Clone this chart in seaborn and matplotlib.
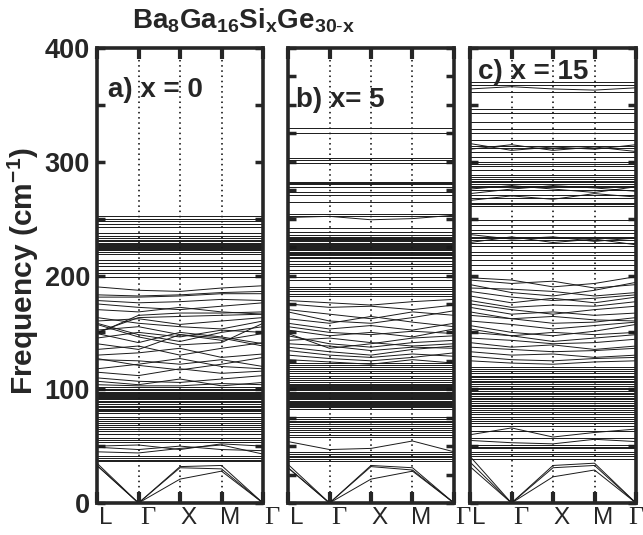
import numpy as np
import pandas as pd
import matplotlib
matplotlib.use('Agg')
import matplotlib.pyplot as plt
import seaborn as sns
from matplotlib.transforms import ScaledTranslation

# ---------------- data ----------------
kpoints = ['L', 'Γ', 'X', 'M', 'Γ']
kpos = [0, 1, 2, 3, 4]
panel_labels = ['a) x = 0', 'b) x= 5', 'c) x = 15']

# panel a (x = 0): nearly flat bands (cm^-1)
flat_a = [252, 250, 247.5, 245, 243,
          237, 234.5, 233, 231.5, 230, 229, 228, 227, 226, 225, 224, 223, 222, 221, 218.5,
          214, 211, 208, 205, 202, 199,
          102, 100.5, 99, 98, 97, 96, 95, 94, 93, 92, 91, 90, 88.5, 87, 85.5, 84, 83, 82, 80.5, 79,
          76, 74, 72, 70.5, 69, 67, 65, 63, 61,
          57, 55.5, 54,
          41, 39.5, 38, 36.5]
# panel a dispersive bands: values at L, Γ, X, M, Γ
disp_a = [[33, 0, 21, 28, 0], [33, 0, 31, 30, 0], [35, 0, 32, 33, 0],
          [45, 44, 48, 51, 43], [49, 47, 50, 47, 46], [50, 51, 47, 52, 50],
          [190, 187, 186, 189, 191], [183, 182, 183, 185, 186], [181, 181, 182, 184, 184],
          [178, 176, 177, 179, 178], [175, 172, 170, 173, 176], [170, 168, 172, 168, 166],
          [149, 165, 167, 167, 168], [150, 163, 164, 165, 166], [160, 162, 157, 160, 163],
          [163, 158, 155, 153, 160], [149, 141, 150, 146, 140], [152, 155, 148, 143, 149],
          [158, 148, 142, 150, 155], [157, 146, 139, 141, 158], [140, 135, 148, 145, 138],
          [145, 150, 146, 152, 150], [135, 138, 130, 136, 141], [130, 132, 136, 128, 131],
          [127, 121, 117, 122, 128], [126, 125, 122, 126, 120], [118, 122, 127, 120, 118],
          [115, 112, 118, 114, 116], [110, 107, 106, 109, 112], [107, 104, 109, 103, 106],
          [104, 103, 103, 105, 104]]

# panel b (x = 5)
flat_b = [330, 325.5,
          303, 301.5, 299,
          282.5, 281.5, 280.4, 278, 273, 271, 265,
          254, 252, 242, 238.5, 235.6,
          234, 233, 232, 231, 230, 229, 228, 227, 226, 225, 224, 223, 222, 221, 220, 219, 218, 216.5, 215, 213,
          210, 208, 205, 202, 199, 196,
          190, 188, 186, 184, 182,
          123, 121, 119.5, 118, 116, 114, 112, 110, 108,
          106.5, 105, 104, 103, 102, 101, 100, 99, 98, 97, 96, 95, 94, 93, 92, 91, 90, 89, 88, 87, 86, 85, 84, 83,
          76, 74, 72.5, 71, 69.5, 68, 66, 64, 62, 60, 58,
          45, 43, 41.5, 40.5, 39, 37]
disp_b = [[31, 0, 21, 28, 0], [31, 0, 32, 29, 0], [34, 0, 33, 31, 0],
          [54, 47, 48, 54.5, 45], [251, 252, 249, 250, 253],
          [178, 176, 174, 177, 179], [175, 172, 173, 170, 174], [170, 166, 162, 168, 165],
          [168, 160, 158, 163, 169], [162, 158, 164, 159, 155], [158, 153, 156, 152, 158],
          [155, 150, 148, 151, 149], [152, 147, 150, 146, 153], [149, 136, 140, 145, 147],
          [147, 140, 137, 141, 143], [143, 145, 141, 138, 140], [140, 138, 134, 137, 136],
          [137, 133, 130, 135, 138], [134, 130, 128, 131, 129], [130, 127, 125, 128, 132],
          [126, 124, 122, 126, 123]]

# panel c (x = 15)
flat_c = [370.4, 367.5, 361.6,
          346.4, 342.6, 335, 329, 325, 319, 314, 312, 309, 304, 300, 298, 296, 293,
          288, 286.5, 285, 283.5, 282, 280.5, 279, 277.5, 275, 271, 268, 264, 263, 261,
          249, 244, 240, 237, 234, 233, 231, 228.6, 226, 221, 218, 213.6, 209, 205,
          120, 118, 116, 114, 112, 110.5, 109, 107.5, 106, 104.5, 103, 101.5, 100, 98.5, 97, 95.5,
          94, 92.5, 91, 89.5, 88, 86.5, 85, 83.5, 82, 80, 78, 76, 74, 72, 70, 68,
          63, 57, 51, 49.5, 48, 45, 43, 41, 39]
disp_c = [[36, 0, 23, 29, 0], [32, 0, 31, 33, 0], [41, 0, 33, 35, 0],
          [364, 366, 364, 363, 365], [316, 310, 313, 311, 315], [311, 315, 310, 313, 309],
          [276, 279, 276, 273, 278], [272, 276, 279, 277, 274], [266, 270, 267, 272, 269],
          [236, 232, 234, 230, 233], [229, 234, 229, 232, 227],
          [198, 196, 190, 193, 199], [196, 193, 195, 189, 192], [192, 185, 182, 187, 194],
          [189, 188, 186, 182, 185], [186, 181, 178, 180, 183], [182, 176, 180, 176, 181],
          [178, 172, 174, 173, 177], [175, 170, 166, 170, 173], [172, 166, 168, 165, 167],
          [168, 162, 164, 161, 160], [165, 162, 158, 159, 163], [160, 157, 153, 156, 159],
          [156, 150, 147, 151, 157], [153, 147, 150, 148, 150], [150, 147, 142, 145, 148],
          [145, 143, 140, 141, 144], [141, 137, 139, 135, 138], [137, 135, 133, 134, 136],
          [133, 130, 131, 128, 130], [129, 126, 125, 127, 128], [125, 123, 122, 124, 125],
          [60, 66, 58, 62, 65], [55, 53, 52, 56, 54]]


def build(flat, disp):
    rows = []
    b = 0
    for f in flat:
        for k in kpos:
            rows.append((b, k, f))
        b += 1
    for band in disp:
        for k, f in zip(kpos, band):
            rows.append((b, k, f))
        b += 1
    return pd.DataFrame(rows, columns=['band', 'k', 'freq'])


panels = [build(flat_a, disp_a), build(flat_b, disp_b), build(flat_c, disp_c)]

# ---------------- style ----------------
sns.set_style('ticks')
plt.rcParams['font.family'] = ['Liberation Sans', 'DejaVu Sans']
plt.rcParams['mathtext.fontset'] = 'custom'
plt.rcParams['mathtext.bf'] = 'Liberation Sans:bold'
plt.rcParams['mathtext.rm'] = 'Liberation Sans'

W, H = 643, 535
fig = plt.figure(figsize=(W / 100, H / 100), dpi=100)
lefts = [97, 288, 470]
width = 166
bottom_px, top_px = 503, 48
ytick_steps = [50, 25, 50]
label_pos = [(0.27, 363), (0.2, 354), (0.2, 379)]

for i, df in enumerate(panels):
    ax = fig.add_axes([lefts[i] / W, (H - bottom_px) / H, width / W, (bottom_px - top_px) / H])
    for kx in [1, 2, 3]:
        ax.axvline(kx, color='black', ls=(0, (1.0, 2.4)), lw=1.1, zorder=0)
    sns.lineplot(data=df, x='k', y='freq', units='band', estimator=None, sort=False,
                 color='#1a1a1a', lw=0.7, ax=ax, legend=False)
    ax.set_xlim(0, 4)
    ax.set_ylim(0, 400)
    ax.set_xlabel('')
    ax.set_ylabel('')
    for s in ax.spines.values():
        s.set_linewidth(2.6)
        s.set_visible(True)
    ax.set_xticks(kpos)
    ax.set_xticklabels(kpoints)
    ax.tick_params(axis='x', direction='in', top=True, bottom=True, length=8, width=3,
                   labelsize=17.5, pad=3)
    yt = np.arange(0, 401, ytick_steps[i])
    ax.set_yticks(yt)
    if i == 0:
        ax.set_yticklabels([str(int(v)) if v % 100 == 0 else '' for v in yt],
                           fontweight='bold')
    else:
        ax.set_yticklabels([])
    ax.tick_params(axis='y', direction='in', left=True, right=True, length=6, width=2.5,
                   labelsize=19.5, pad=5)
    labs = ax.get_xticklabels()
    for j, lab in enumerate(labs):
        if lab.get_text() == 'Γ':
            lab.set_fontfamily(['Liberation Serif', 'DejaVu Serif'])
            lab.set_fontsize(19)
        shift = 9 if not (i == 2 and j == len(labs) - 1) else 0
        lab.set_transform(lab.get_transform() + ScaledTranslation(shift / 100, 0, fig.dpi_scale_trans))
    lx, ly = label_pos[i]
    ax.text(lx, ly, panel_labels[i], fontsize=20, fontweight='bold', ha='left', va='center')

fig.text(0.379, 0.962, r'$\mathbf{Ba_{8}Ga_{16}Si_{x}Ge_{30\text{-}x}}$', fontsize=20,
         ha='center', va='center')
fig.text(0.036, 0.493, r'Frequency (cm$^{\mathbf{-1}}$)', rotation=90, fontsize=21.5,
         fontweight='bold', ha='center', va='center')

fig.savefig('out.png', dpi=100)
